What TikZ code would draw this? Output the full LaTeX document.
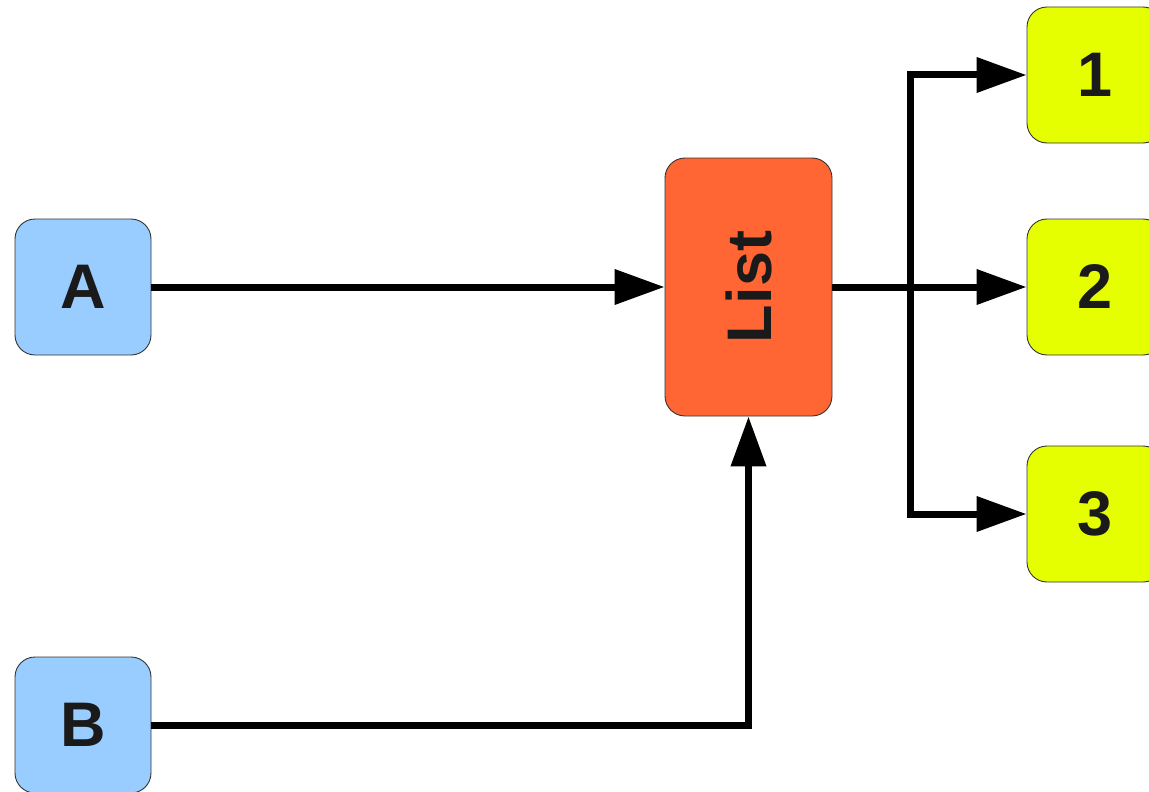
\documentclass[tikz,border=0pt]{standalone}
\usepackage{fontspec}
\setmainfont{Liberation Sans}
\usetikzlibrary{arrows.meta}
\definecolor{inblue}{HTML}{99CCFF}
\definecolor{listred}{HTML}{FF6633}
\definecolor{outyellow}{HTML}{E6FF00}
\definecolor{edgegrey}{HTML}{333333}
\definecolor{labelgrey}{HTML}{1A1A1A}
\tikzset{
  card/.style={draw=edgegrey, line width=0.9pt, rounded corners=20pt,
    minimum width=136pt, minimum height=136pt, inner sep=0pt,
    text=labelgrey, font=\fontsize{63}{70}\selectfont\bfseries},
  inbox/.style={card, fill=inblue},
  outbox/.style={card, fill=outyellow},
  listbox/.style={card, fill=listred, minimum width=167pt, minimum height=258pt},
  flow/.style={line width=7pt, -{Triangle[length=50pt, width=34pt]}},
  plain/.style={line width=7pt}
}
\begin{document}
\begin{tikzpicture}[x=1pt, y=-1pt]
  \useasboundingbox (0,0) rectangle (1149,792);
  \clip (0,0) rectangle (1149,792);
  % sources
  \node[inbox] (A) at (83,287) {A};
  \node[inbox] (B) at (83,725) {B};
  % collector
  \node[listbox] (L) at (748.5,287) {\rotatebox{90}{List}};
  % outputs
  \node[outbox] (o1) at (1095,75) {1};
  \node[outbox] (o2) at (1095,287) {2};
  \node[outbox] (o3) at (1095,514) {3};
  % split point of the fan-out
  \coordinate (split) at (910,287);
  \coordinate (bend) at (748.5,725);
  % connectors
  \draw[flow] (A.east) -- (L.west);
  \draw[flow] (B.east) -- (bend) -- (L.south);
  \draw[plain] (L.east) -- (split);
  \draw[flow] (split) |- (o1.west);
  \draw[flow] (split) -- (o2.west);
  \draw[flow] (split) |- (o3.west);
\end{tikzpicture}
\end{document}
